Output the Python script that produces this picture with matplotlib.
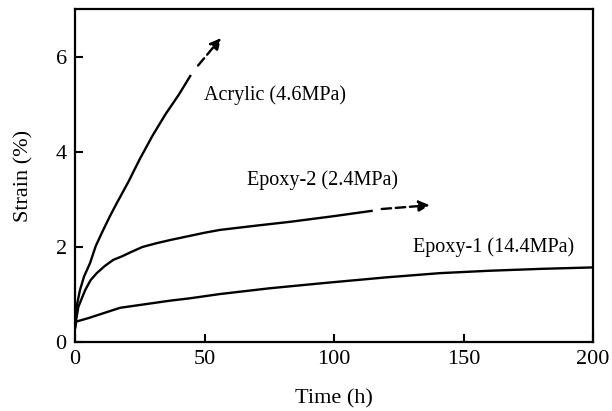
import matplotlib.pyplot as plt

plt.rcParams['font.family'] = ['Liberation Serif', 'DejaVu Serif']

# curve data: time (h), strain (%)
acrylic_t = [0, 0.3, 0.6, 1.9, 3.5, 5.8, 8, 10.9, 13.5, 16.1, 20.6, 25, 30, 35, 40, 44.5]
acrylic_s = [0.3, 0.5, 0.74, 1.09, 1.38, 1.66, 2.02, 2.36, 2.65, 2.92, 3.37, 3.85, 4.35, 4.8, 5.2, 5.6]
acrylic_arrow_t = [47.5, 56.4]
acrylic_arrow_s = [5.82, 6.4]

epoxy2_t = [0, 0.4, 1.3, 3.9, 6, 8.4, 11.5, 14.8, 18, 21.9, 26, 31.5, 37, 43.1, 50, 56, 70, 83, 100, 114.5]
epoxy2_s = [0.3, 0.45, 0.74, 1.09, 1.3, 1.45, 1.6, 1.73, 1.8, 1.9, 2.0, 2.08, 2.15, 2.22, 2.3, 2.36, 2.45, 2.53, 2.65, 2.76]
epoxy2_arrow_t = [118.4, 137]
epoxy2_arrow_s = [2.8, 2.88]

epoxy1_t = [0, 0.5, 5, 17.4, 36.7, 44.4, 56, 75, 95.9, 120, 141, 160, 180, 200]
epoxy1_s = [0.3, 0.43, 0.5, 0.72, 0.87, 0.92, 1.01, 1.13, 1.24, 1.36, 1.45, 1.5, 1.54, 1.57]

fig = plt.figure(figsize=(6.12, 4.11), dpi=100)
ax = fig.add_axes([75 / 612, 69 / 411, 518 / 612, 332.5 / 411])

lw = 1.7
ax.plot(acrylic_t, acrylic_s, color='black', lw=lw)
ax.plot(epoxy2_t, epoxy2_s, color='black', lw=lw)
ax.plot(epoxy1_t, epoxy1_s, color='black', lw=lw)

# dashed continuation with arrow heads
for tt, ss in [(acrylic_arrow_t, acrylic_arrow_s), (epoxy2_arrow_t, epoxy2_arrow_s)]:
    ax.annotate('', xy=(tt[1], ss[1]), xytext=(tt[0], ss[0]),
                arrowprops=dict(arrowstyle='-|>', color='black', lw=lw, ls=(0, (4, 2)),
                                mutation_scale=16, shrinkA=0, shrinkB=0))

ax.text(49.8, 5.2, 'Acrylic (4.6MPa)', fontsize=14.5, va='center', ha='left')
ax.text(66.4, 3.4, 'Epoxy-2 (2.4MPa)', fontsize=14.5, va='center', ha='left')
ax.text(130.5, 1.99, 'Epoxy-1 (14.4MPa)', fontsize=14.5, va='center', ha='left')

ax.set_xlim(0, 200)
ax.set_ylim(0, 7)
ax.set_xticks([0, 50, 100, 150, 200])
ax.set_yticks([0, 2, 4, 6])
ax.tick_params(direction='in', length=6, width=1.5, labelsize=16, pad=6)
for sp in ax.spines.values():
    sp.set_linewidth(1.6)
ax.set_xlabel('Time (h)', fontsize=16, labelpad=14)
ax.set_ylabel('Strain (%)', fontsize=16, labelpad=16)

fig.savefig('out.png', dpi=100)
